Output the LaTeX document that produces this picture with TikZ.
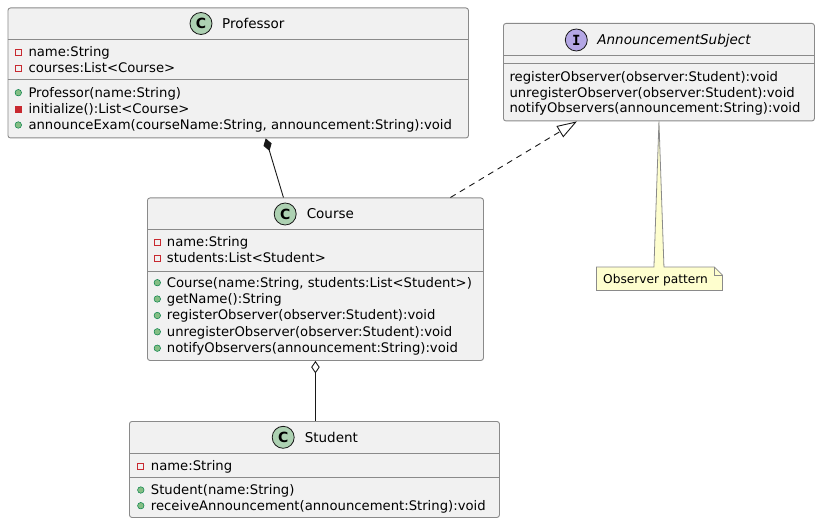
\documentclass[tikz,border=0pt]{standalone}
\usepackage{fontspec}
\setmainfont{DejaVu Sans}
\newfontfamily\monoicon{DejaVu Sans Mono}
\usepackage{tikz}
\usetikzlibrary{positioning,arrows.meta,calc}
\usepackage{xcolor}

\definecolor{umlfill}{HTML}{F1F1F1}
\definecolor{umlline}{HTML}{181818}
\definecolor{umlborder}{HTML}{8A8A8A}
\definecolor{umlclass}{HTML}{ADD1B2}
\definecolor{umliface}{HTML}{B4A7E5}
\definecolor{umlpriv}{HTML}{C82930}
\definecolor{umlpub}{HTML}{84BE84}
\definecolor{umlpubline}{HTML}{038048}
\definecolor{umlnote}{HTML}{FEFECE}

\tikzset{
  classbox/.style={draw=umlborder, fill=umlfill, line width=0.9pt, rounded corners=2.5pt,
                   inner sep=0pt, anchor=north west},
  sepline/.style={draw=umlborder, line width=0.9pt},
  kindicon/.style={circle, draw=umlline, line width=0.8pt, minimum size=22pt, inner sep=0pt,
                   font=\fontsize{14}{14}\selectfont\bfseries},
  ctitle/.style={inner sep=0pt, text height=12.8pt, text depth=3pt,
                 font=\fontsize{13.5}{16}\selectfont},
  member/.style={inner sep=0pt, anchor=base west, font=\fontsize{13.2}{16}\selectfont},
  priv/.style={draw=umlpriv, line width=0.8pt, minimum size=6pt, inner sep=0pt},
  privm/.style={priv, fill=umlpriv},
  pub/.style={circle, draw=umlpubline, fill=umlpub, line width=0.5pt, minimum size=6.5pt, inner sep=0pt},
  umllink/.style={draw=umlline, line width=0.9pt},
  notebox/.style={draw=umlborder, fill=umlnote, line width=0.8pt},
  notetext/.style={inner sep=0pt, font=\fontsize{12.2}{14}\selectfont}
}

\begin{document}
\begin{tikzpicture}[x=1pt,y=-1pt]
  \useasboundingbox (0,0) rectangle (820,524);

  % class boxes
  \node[classbox, minimum width=460.5pt, minimum height=130pt] (prof) at (7.5,7.5) {};
  \node[classbox, minimum width=311pt, minimum height=97.5pt] (subj) at (503,23) {};
  \node[classbox, minimum width=336pt, minimum height=162.5pt] (course) at (147,197.5) {};
  \node[classbox, minimum width=370pt, minimum height=96pt] (stud) at (129,421) {};

  \foreach \y in {39.5,79.5} \draw[sepline] (7.5,\y) -- (468,\y);
  \foreach \y in {55,63.5} \draw[sepline] (503,\y) -- (814,\y);
  \foreach \y in {229.5,271} \draw[sepline] (147,\y) -- (483,\y);
  \foreach \y in {453,477.5} \draw[sepline] (129,\y) -- (499,\y);

  % headers
  \node[kindicon, fill=umlclass] (profC) at (201,23.5) {C};
  \node[ctitle, right=9.5pt of profC] (profT) {Professor};
  \node[kindicon, fill=umliface, font=\fontsize{14}{14}\monoicon\bfseries] (subjI) at (576.3,40) {I};
  \node[ctitle, right=9.5pt of subjI] (subjT) {\itshape AnnouncementSubject};
  \node[kindicon, fill=umlclass] (courseC) at (285.2,214) {C};
  \node[ctitle, right=10pt of courseC] (courseT) {Course};
  \node[kindicon, fill=umlclass] (studC) at (283.2,437.3) {C};
  \node[ctitle, right=10pt of studC] (studT) {Student};

  % members
  \foreach \vis/\txt/\y [count=\i] in {
      priv/name:String/52.3, priv/courses:List<Course>/68.3,
      pub/Professor(name:String)/92.7, privm/initialize():List<Course>/109,
      pub/{announceExam(courseName:String, announcement:String):void}/125} {
    \node[\vis] (prof-v\i) at (18.3,\y) {};
    \node[member] (prof-m\i) at (28.3,\y+4.4) {\txt};
  }
  \foreach \txt/\y [count=\i] in {
      registerObserver(observer:Student):void/77.3,
      unregisterObserver(observer:Student):void/92.7,
      notifyObservers(announcement:String):void/108.3}
    \node[member] (subj-m\i) at (509.3,\y+4.4) {\txt};
  \foreach \vis/\txt/\y [count=\i] in {
      priv/name:String/242.3, priv/students:List<Student>/258.3,
      pub/{Course(name:String, students:List<Student>)}/282.7,
      pub/getName():String/299,
      pub/registerObserver(observer:Student):void/315.5,
      pub/unregisterObserver(observer:Student):void/331.8,
      pub/notifyObservers(announcement:String):void/348.2} {
    \node[\vis] (course-v\i) at (157.3,\y) {};
    \node[member] (course-m\i) at (166.7,\y+4.4) {\txt};
  }
  \foreach \vis/\txt/\y [count=\i] in {
      priv/name:String/466, pub/Student(name:String)/490,
      pub/receiveAnnouncement(announcement:String):void/505.7} {
    \node[\vis] (stud-v\i) at (140.8,\y) {};
    \node[member] (stud-m\i) at (150.7,\y+4.4) {\txt};
  }

  % relations
  \draw[umllink, {Diamond[length=13pt,width=8.5pt]}-]
    ([xshift=27.5pt]prof.south) -- ([xshift=-32pt]course.north);
  \draw[umllink, dash pattern=on 6pt off 5pt, -{Triangle[open,length=20pt,width=13pt]}]
    ([xshift=135pt]course.north) -- ([xshift=-82pt]subj.south);
  \draw[umllink, {Diamond[open,fill=white,length=12.5pt,width=8.5pt]}-]
    (course.south) -- (course.south |- stud.north);

  % note
  \node[inner sep=0pt, minimum width=125.5pt, minimum height=23pt, anchor=north west] (note) at (596.5,267) {};
  \filldraw[notebox] (note.south west) -- (note.north west)
    -- ($(subj.south |- note.north)+(-5,0)$) -- (subj.south) -- ($(subj.south |- note.north)+(5,0)$)
    -- ($(note.north east)+(-8,0)$) -- ($(note.north east)+(0,8)$) -- (note.south east) -- cycle;
  \draw[notebox, fill=none] ($(note.north east)+(-8,0)$) -- ($(note.north east)+(-8,8)$) -- ($(note.north east)+(0,8)$);
  \node[notetext, right=6.5pt of note.west, yshift=-1.5pt] (notelabel) {Observer pattern};
\end{tikzpicture}
\end{document}
